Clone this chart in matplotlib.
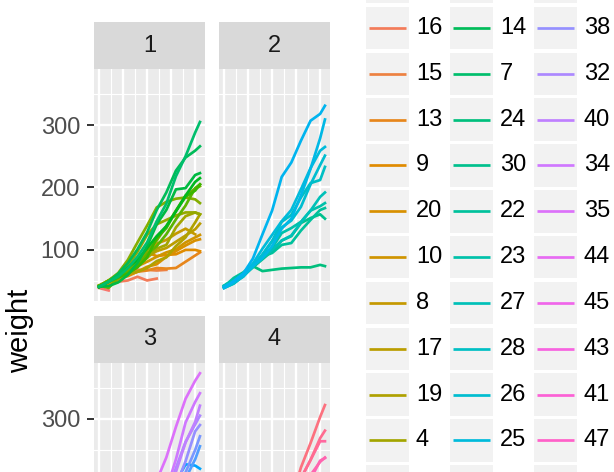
import numpy as np
import matplotlib
matplotlib.use("Agg")
import matplotlib.pyplot as plt
from matplotlib.patches import Rectangle

plt.rcParams['font.family'] = ['Liberation Sans', 'DejaVu Sans']

# --- ChickWeight data: weight per chick at the measurement times ---
times = [0, 2, 4, 6, 8, 10, 12, 14, 16, 18, 20, 21]

diet1_chicks = [1, 2, 3, 4, 5, 6, 7, 8, 9, 10, 11, 12, 13, 14, 15, 16, 17, 18, 19, 20]
diet1_weights = [
    [42, 51, 59, 64, 76, 93, 106, 125, 149, 171, 199, 205],
    [40, 49, 58, 72, 84, 103, 122, 138, 162, 187, 209, 215],
    [43, 39, 55, 67, 84, 99, 115, 138, 163, 187, 198, 202],
    [42, 49, 56, 67, 74, 87, 102, 108, 136, 154, 160, 157],
    [41, 42, 48, 60, 79, 106, 141, 164, 197, 199, 220, 223],
    [41, 49, 59, 74, 97, 124, 141, 148, 155, 160, 160, 157],
    [41, 49, 57, 71, 89, 112, 146, 174, 218, 250, 288, 305],
    [42, 50, 61, 71, 84, 93, 110, 116, 126, 134, 125],
    [42, 51, 59, 68, 85, 96, 90, 92, 93, 100, 100, 98],
    [41, 44, 52, 63, 74, 81, 89, 96, 101, 112, 120, 124],
    [43, 51, 63, 84, 112, 139, 168, 177, 182, 184, 181, 175],
    [41, 49, 56, 62, 72, 88, 119, 135, 162, 185, 195, 205],
    [41, 48, 53, 60, 65, 67, 71, 70, 71, 81, 91, 96],
    [41, 49, 62, 79, 101, 128, 164, 192, 227, 248, 259, 266],
    [41, 49, 56, 64, 68, 68, 67, 68],
    [41, 45, 49, 51, 57, 51, 54],
    [42, 51, 61, 72, 83, 89, 98, 103, 113, 123, 133, 142],
    [39, 35],
    [43, 48, 55, 62, 65, 71, 82, 88, 106, 120, 144, 157],
    [41, 47, 54, 58, 65, 73, 77, 89, 98, 107, 115, 117],
]

diet2_chicks = [21, 22, 23, 24, 25, 26, 27, 28, 29, 30]
diet2_weights = [
    [40, 50, 62, 86, 125, 163, 217, 240, 275, 307, 318, 331],
    [41, 55, 64, 77, 90, 95, 108, 111, 131, 148, 164, 167],
    [43, 52, 61, 73, 90, 103, 127, 135, 145, 163, 170, 175],
    [42, 52, 58, 74, 66, 68, 70, 71, 72, 72, 76, 74],
    [40, 49, 62, 78, 102, 124, 146, 164, 197, 231, 259, 265],
    [42, 48, 57, 74, 93, 114, 136, 147, 169, 205, 236, 251],
    [39, 46, 58, 73, 87, 100, 115, 123, 144, 163, 185, 192],
    [39, 46, 58, 73, 92, 114, 145, 156, 184, 207, 212, 233],
    [39, 48, 59, 74, 87, 106, 134, 150, 187, 230, 279, 309],
    [42, 48, 59, 72, 85, 98, 115, 122, 143, 151, 157, 150],
]

diet3_chicks = [31, 32, 33, 34, 35, 36, 37, 38, 39, 40]
diet3_weights = [
    [42, 53, 62, 73, 85, 102, 123, 138, 170, 204, 235, 256],
    [41, 49, 65, 82, 107, 129, 159, 179, 221, 263, 291, 305],
    [39, 50, 63, 77, 96, 111, 137, 144, 151, 146, 156, 147],
    [41, 49, 63, 85, 107, 134, 164, 186, 235, 294, 327, 341],
    [41, 53, 64, 87, 123, 158, 201, 238, 287, 332, 361, 373],
    [39, 48, 61, 76, 98, 116, 145, 166, 198, 227, 225, 220],
    [41, 48, 56, 68, 80, 83, 103, 112, 135, 157, 169, 178],
    [41, 49, 61, 74, 98, 109, 128, 154, 192, 232, 280, 290],
    [42, 50, 61, 78, 89, 109, 130, 146, 170, 214, 250, 272],
    [41, 55, 66, 79, 101, 120, 154, 182, 215, 262, 295, 321],
]

diet4_chicks = [41, 42, 43, 44, 45, 46, 47, 48, 49, 50]
diet4_weights = [
    [42, 51, 66, 85, 103, 124, 155, 153, 175, 184, 199, 204],
    [42, 49, 63, 84, 103, 126, 160, 174, 204, 234, 269, 281],
    [42, 55, 69, 96, 131, 157, 184, 188, 197, 198, 199, 200],
    [42, 51, 65, 86, 103, 118, 127, 138, 145, 146],
    [41, 50, 61, 78, 98, 117, 135, 141, 147, 174, 197, 196],
    [40, 52, 62, 82, 101, 120, 144, 156, 173, 210, 231, 238],
    [41, 53, 66, 79, 100, 123, 148, 157, 168, 185, 210, 205],
    [39, 50, 62, 80, 104, 125, 154, 170, 222, 261, 303, 322],
    [40, 53, 64, 85, 108, 128, 152, 166, 184, 203, 233, 237],
    [41, 54, 67, 84, 105, 122, 155, 175, 205, 234, 264, 264],
]

# factor order of Chick (ordered by max weight)
chick_levels = [18, 16, 15, 13, 9, 20, 10, 8, 17, 19, 4, 6, 11, 3, 1, 12, 2, 5,
                14, 7, 24, 30, 22, 23, 27, 28, 26, 25, 29, 21, 33, 37, 36, 31,
                39, 38, 32, 40, 34, 35, 44, 45, 43, 41, 47, 49, 46, 50, 42, 48]

diet_labels = ["1", "2", "3", "4"]
y_ticks = [100, 200, 300]
y_lim = (18.1, 389.9)


def hcl_to_rgb(h, c=100.0, l=65.0):
    # polarLUV -> sRGB, like R's hcl()
    xn, yn, zn = 95.047, 100.0, 108.883
    u_ = c * np.cos(np.radians(h))
    v_ = c * np.sin(np.radians(h))
    y = yn * ((l + 16) / 116) ** 3
    t = xn + 15 * yn + 3 * zn
    un, vn = 4 * xn / t, 9 * yn / t
    u = u_ / (13 * l) + un
    v = v_ / (13 * l) + vn
    x = 9.0 * y * u / (4 * v)
    z = -x / 3 - 5 * y + 3 * y / v
    x, y, z = x / 100, y / 100, z / 100
    r = 3.240479 * x - 1.537150 * y - 0.498535 * z
    g = -0.969256 * x + 1.875992 * y + 0.041556 * z
    b = 0.055648 * x - 0.204043 * y + 1.057311 * z
    out = []
    for ch in (r, g, b):
        ch = 12.92 * ch if ch <= 0.0031308 else 1.055 * ch ** (1 / 2.4) - 0.055
        out.append(min(max(ch, 0), 1))
    return tuple(out)


n = len(chick_levels)
hues = 15 + np.arange(n) * 360.0 / n
level_colors = [hcl_to_rgb(h) for h in hues]

W, H = 614, 472
fig = plt.figure(figsize=(W / 100, H / 100), dpi=100)


def px_axes(x0, y0, x1, y1, **kw):
    return fig.add_axes([x0 / W, 1 - y1 / H, (x1 - x0) / W, (y1 - y0) / H], **kw)


panels = [
    (94, 205, 69, 301, diet1_chicks, diet1_weights),
    (219, 330, 69, 301, diet2_chicks, diet2_weights),
    (94, 205, 362.7, 594.7, diet3_chicks, diet3_weights),
    (219, 330, 362.7, 594.7, diet4_chicks, diet4_weights),
]
strip_h = 46.7

for i, (x0, x1, y0, y1, chicks, weights) in enumerate(panels):
    ax = px_axes(x0, y0, x1, y1)
    ax.set_facecolor("#EBEBEB")
    for s in ax.spines.values():
        s.set_visible(False)
    for gx in np.arange(0, 21, 5):
        ax.axvline(gx, color="white", lw=1.7, zorder=1)
    for gx in np.arange(2.5, 20, 5):
        ax.axvline(gx, color="white", lw=0.85, zorder=1)
    for gy in y_ticks:
        ax.axhline(gy, color="white", lw=1.7, zorder=1)
    for gy in [50, 150, 250, 350]:
        ax.axhline(gy, color="white", lw=0.85, zorder=1)

    order = sorted(range(len(chicks)), key=lambda k: chick_levels.index(chicks[k]))
    for k in order:
        w = weights[k]
        col = level_colors[chick_levels.index(chicks[k])]
        ax.plot(times[:len(w)], w, color=col, lw=1.95, zorder=2)

    ax.set_xlim(-1.05, 22.05)
    ax.set_ylim(*y_lim)
    ax.set_xticks([])
    ax.set_yticks(y_ticks)
    if i % 2 == 0:
        # labels falling below the visible canvas are left blank
        labels = []
        for t in y_ticks:
            ypx = y1 - (t - y_lim[0]) / (y_lim[1] - y_lim[0]) * (y1 - y0)
            labels.append(str(t) if ypx + 14 < H else "")
        ax.set_yticklabels(labels)
        ax.tick_params(axis="y", length=5, width=1.4, color="#333333", pad=5,
                       labelsize=17, labelcolor="#4D4D4D")
    else:
        ax.tick_params(axis="y", length=0, labelleft=False)

    st = px_axes(x0, y0 - strip_h, x1, y0)
    st.set_facecolor("#D9D9D9")
    for s in st.spines.values():
        s.set_visible(False)
    st.set_xticks([])
    st.set_yticks([])
    st.text(0.5, 0.5, diet_labels[i], ha="center", va="center", fontsize=17,
            color="#1A1A1A", transform=st.transAxes)

fig.text(20 / W, 1 - 331 / H, "weight", rotation=90, ha="center", va="center",
         fontsize=21, color="black")

# legend (3 columns, column-major like ggplot)
leg = fig.add_axes([0, 0, 1, 1])
leg.set_xlim(0, W)
leg.set_ylim(H, 0)
leg.axis("off")
leg.patch.set_visible(False)
nrow = 17
key = 42.5
pitch = 45.83
col_left = [366, 450, 534]
first_top = 6.7 - pitch
for j, chick in enumerate(chick_levels):
    c, r = divmod(j, nrow)
    kx = col_left[c]
    ky = first_top + r * pitch
    if ky > H or ky + key < 0:
        continue
    leg.add_patch(Rectangle((kx, ky), key, key, facecolor="#F2F2F2", edgecolor="none"))
    leg.plot([kx + 2.5, kx + key - 2.5], [ky + key / 2, ky + key / 2],
             color=level_colors[j], lw=1.95, solid_capstyle="butt")
    if 14 < ky + key / 2 < H - 14:
        leg.text(kx + key + 7.5, ky + key / 2, str(chick), ha="left", va="center",
                 fontsize=17, color="black")

fig.savefig("out.png", dpi=100)
